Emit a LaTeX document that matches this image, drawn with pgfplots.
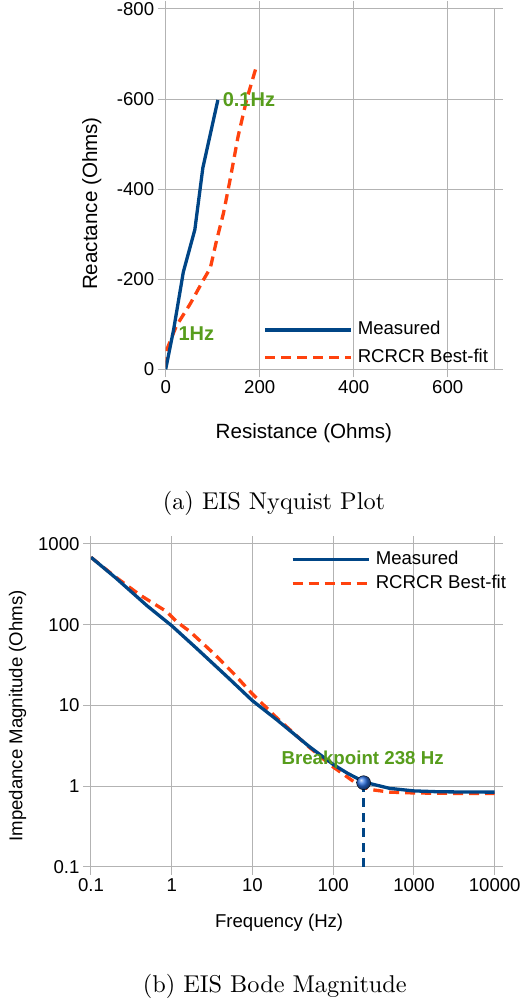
\documentclass[border=0pt]{standalone}
\usepackage{pgfplots}
\pgfplotsset{compat=1.18}
\usepackage{fontspec}
\setmainfont{Liberation Sans}
\newfontfamily\capfont{lmroman10-regular.otf}
\definecolor{lblue}{HTML}{004586}
\definecolor{lorange}{HTML}{FF420E}
\definecolor{lgreen}{HTML}{579D1C}
\definecolor{lgrid}{HTML}{B3B3B3}
\definecolor{ballblue}{HTML}{2A6FE0}
\newcommand\cf{\fontsize{18.6}{22}\selectfont}
\newcommand\lf{\fontsize{20.6}{24}\selectfont}
\begin{document}
\begin{tikzpicture}
\path[use as bounding box] (0,0) rectangle (520pt,1008pt);
\pgfplotsset{
  eis/.style={
    scale only axis,
    axis line style={lgrid, line width=1pt},
    grid=major,
    major grid style={lgrid, line width=1pt},
    tick style={lgrid, line width=1pt},
    tick align=outside,
    major tick length=8pt,
    minor tick length=0pt,
    tick label style={font=\cf, text=black},
    label style={font=\cf},
    /pgf/number format/assume math mode=true,
    legend cell align=left,
    reverse legend,
  },
  meas/.style={lblue, line width=3.3pt, line join=round},
  fit/.style={lorange, line width=3.3pt, dash pattern=on 10pt off 6pt, line join=round},
}
% ---------------- (a) Nyquist ----------------
\begin{axis}[eis,
  at={(165.7pt,638.7pt)}, anchor=south west,
  width=329pt, height=360.3pt,
  xmin=0, xmax=700, ymin=-800, ymax=0, y dir=reverse,
  xtick={0,200,400,600}, xticklabels={0,200,400,600},
  ytick={0,-200,-400,-600,-800}, yticklabels={0,-200,-400,-600,-800},
  xlabel={Resistance (Ohms)}, ylabel={Reactance (Ohms)},
  label style={font=\lf},
  xlabel style={at={(axis description cs:0.42,-0.177)}, anchor=center},
  ylabel style={at={(axis description cs:-0.225,0.46)}, anchor=center},
  legend image code/.code={\draw[#1] (0pt,0pt) -- (86pt,0pt);},
  legend style={draw=none, fill=none, font=\cf,
    at={(axis description cs:0.2967,0.071)}, anchor=west,
    inner sep=0pt, row sep=9.6pt,
    nodes={inner sep=0pt, text height=14pt, text depth=4pt},
    /tikz/every odd column/.append style={column sep=5pt}},
]
\addplot[fit] coordinates {(-2,-5) (2,-43) (23,-97) (52,-145) (80,-198) (95,-225) (108,-285) (123,-347) (137,-421) (154,-517) (172,-598) (192,-669)};
\addlegendentry{RCRCR Best-fit}
\addplot[meas] coordinates {(0,0) (17,-89) (37.5,-216) (62,-310) (79,-447) (111,-598)};
\addlegendentry{Measured}
\node[anchor=west, inner sep=0pt, text=lgreen, font=\fontsize{20}{22}\selectfont\bfseries] at (axis cs:121,-598) {0.1Hz};
\node[anchor=west, inner sep=0pt, text=lgreen, font=\fontsize{20}{22}\selectfont\bfseries] at (axis cs:27,-80) {1Hz};
\end{axis}
% ---------------- (b) Bode ----------------
\begin{axis}[eis, xmode=log, ymode=log,
  at={(91pt,141.3pt)}, anchor=south west,
  width=403.7pt, height=322.7pt,
  xmin=0.1, xmax=10000, ymin=0.1, ymax=1000,
  xtick={0.1,1,10,100,1000,10000}, xticklabels={0.1,1,10,100,1000,10000},
  ytick={0.1,1,10,100,1000}, yticklabels={0.1,1,10,100,1000},
  minor xtick={}, minor ytick={},
  xlabel={Frequency (Hz)}, ylabel={Impedance Magnitude (Ohms)},
  xlabel style={at={(axis description cs:0.466,-0.1745)}, anchor=center},
  ylabel style={at={(axis description cs:-0.182,0.467)}, anchor=center},
  legend image code/.code={\draw[#1] (0pt,0pt) -- (76pt,0pt);},
  legend style={draw=none, fill=none, font=\cf,
    at={(axis description cs:0.4947,0.9154)}, anchor=west,
    inner sep=0pt, row sep=6pt,
    nodes={inner sep=0pt, text height=14pt, text depth=4pt},
    /tikz/every odd column/.append style={column sep=5.6pt}},
]
\addplot[fit] coordinates {(0.1,684) (0.2,392) (0.405,233) (0.867,145) (1.15,109) (1.69,81.8) (3.28,44.3) (5.8,25) (10,13.8) (20,7.0) (50,3.05) (100,1.72) (200,1.05) (238,0.97) (300,0.9) (500,0.84) (1000,0.82) (3000,0.81) (10000,0.81)};
\addlegendentry{RCRCR Best-fit}
\addplot[meas] coordinates {(0.1,684) (0.2,384) (0.5,170) (1,97) (2,51.6) (5,22) (10,11.4) (20,6.63) (50,3.11) (100,1.85) (150,1.44) (200,1.24) (238,1.13) (300,1.06) (500,0.935) (1000,0.87) (2000,0.849) (5000,0.842) (10000,0.84)};
\addlegendentry{Measured}
\addplot[lblue, line width=3pt, dash pattern=on 8.5pt off 6.5pt, forget plot] coordinates {(238,0.1) (238,1.1)};
\addplot[only marks, mark=ball, mark size=7pt, mark options={ball color=ballblue}, forget plot] coordinates {(238,1.10)};
\node[anchor=center, inner sep=0pt, text=lgreen, font=\fontsize{18.7}{22}\selectfont\bfseries] at (axis cs:231,2.1) {Breakpoint 238 Hz};
\end{axis}
\node[font=\capfont\fontsize{24.3}{28}\selectfont] at (274pt,505pt) {(a) EIS Nyquist Plot};
\node[font=\capfont\fontsize{24.3}{28}\selectfont] at (274.8pt,22pt) {(b) EIS Bode Magnitude};
\end{tikzpicture}
\end{document}
